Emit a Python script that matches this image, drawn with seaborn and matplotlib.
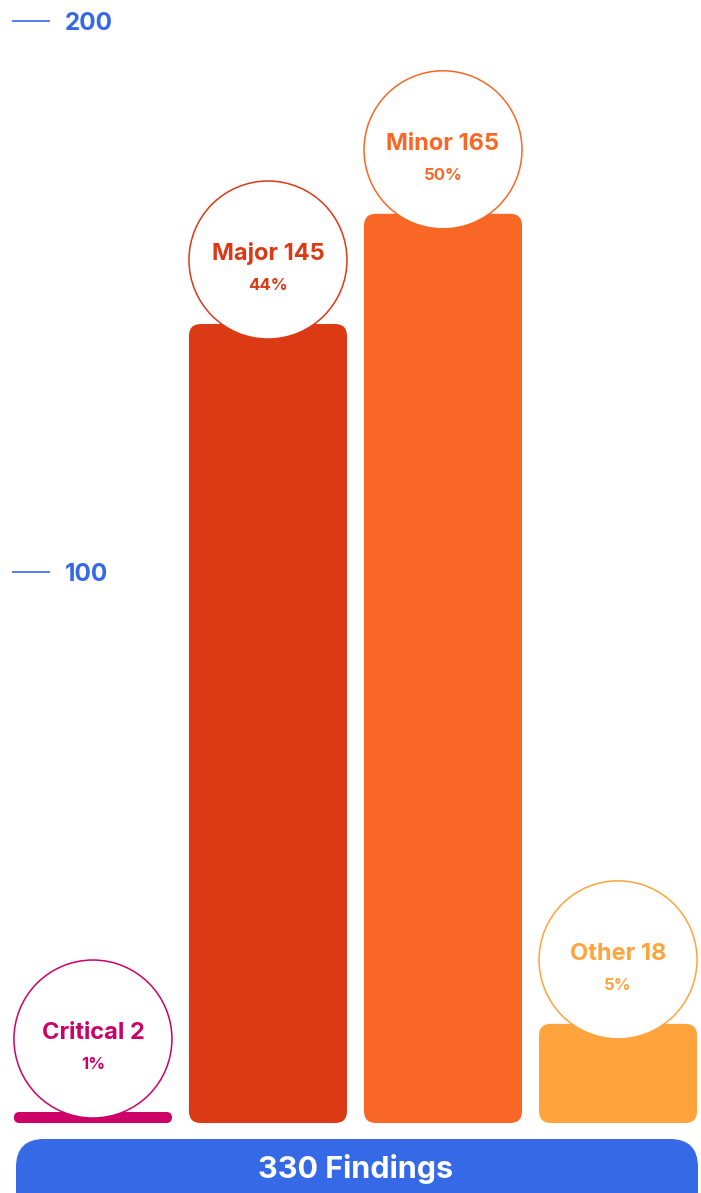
import matplotlib
matplotlib.use("Agg")
from matplotlib import pyplot as plt
from matplotlib.patches import FancyBboxPatch, Circle
from matplotlib.transforms import IdentityTransform
import seaborn as sns
import pandas as pd

# data
categories = ["Critical", "Major", "Minor", "Other"]
counts = [2, 145, 165, 18]
colors = ["#CC0066", "#DB3A14", "#F96726", "#FFA33C"]
y_ticks = [100, 200]
total_label = "330 Findings"
BLUE = "#3569E6"

W, H = 701, 1193

sns.set_theme(style="white")
plt.rcParams["font.family"] = ["Inter", "DejaVu Sans"]

fig = plt.figure(figsize=(W / 100, H / 100), dpi=100)
ax = fig.add_axes([0, 0, 1, 1])
df = pd.DataFrame({"category": categories, "count": counts})
sns.barplot(data=df, x="category", y="count", hue="category", palette=colors,
            width=0.903, saturation=1, legend=False, ax=ax)
ax.set_xlim(-0.531, 3.474)
ax.set_ylim(-12.7, 203.8)

# y axis: short blue dashes with labels to the right
for s in ["left", "top", "bottom"]:
    ax.spines[s].set_visible(False)
ax.spines["right"].set_position(("axes", 12 / W))
ax.spines["right"].set_visible(False)
ax.yaxis.tick_right()
ax.set_yticks(y_ticks, labels=[str(t) for t in y_ticks], fontweight="bold")
ax.tick_params(axis="y", direction="out", length=27.4, width=1.2, color=BLUE,
               pad=10.5, labelsize=17.5, labelcolor=BLUE)
ax.set_xticks([])
ax.set_xlabel("")
ax.set_ylabel("")

ident = IdentityTransform()
total = sum(counts)
R = 79

# rounded bars + label bubbles, in pixel space
for patch, cat, n, col in zip(ax.patches, categories, counts, colors):
    x0, y0 = patch.get_x(), patch.get_y()
    (px0, py0), (px1, py1) = ax.transData.transform([(x0, y0), (x0 + patch.get_width(), y0 + patch.get_height())])
    patch.set_visible(False)
    h = py1 - py0
    ax.add_patch(FancyBboxPatch((px0, py0), px1 - px0, h,
                                boxstyle=f"round,pad=0,rounding_size={min(12, h / 2)}",
                                fc=col, ec="none", transform=ident, clip_on=False, zorder=2))
    cx = (px0 + px1) / 2
    cy = max(py1 + 64, py0 + 5 + R)
    ax.add_patch(Circle((cx, cy), R, fc="white", ec=col, lw=1.1,
                        transform=ident, clip_on=False, zorder=3))
    ax.text(cx, cy, f"{cat} {n}", transform=ident, ha="center", va="baseline",
            fontsize=17, fontweight="bold", color=col, zorder=4)
    ax.text(cx, cy - 30, f"{round(n / total * 100)}%", transform=ident, ha="center",
            va="baseline", fontsize=12, fontweight="bold", color=col, zorder=4)

# total pill at the bottom
ax.add_patch(FancyBboxPatch((16, -30), 682, 84, boxstyle="round,pad=0,rounding_size=28",
                            fc=BLUE, ec="none", transform=ident, clip_on=False, zorder=2))
ax.text(356, 15, total_label, transform=ident, ha="center", va="baseline",
        fontsize=22, fontweight="bold", color="white", zorder=4)

fig.savefig("out.png", dpi=100)
